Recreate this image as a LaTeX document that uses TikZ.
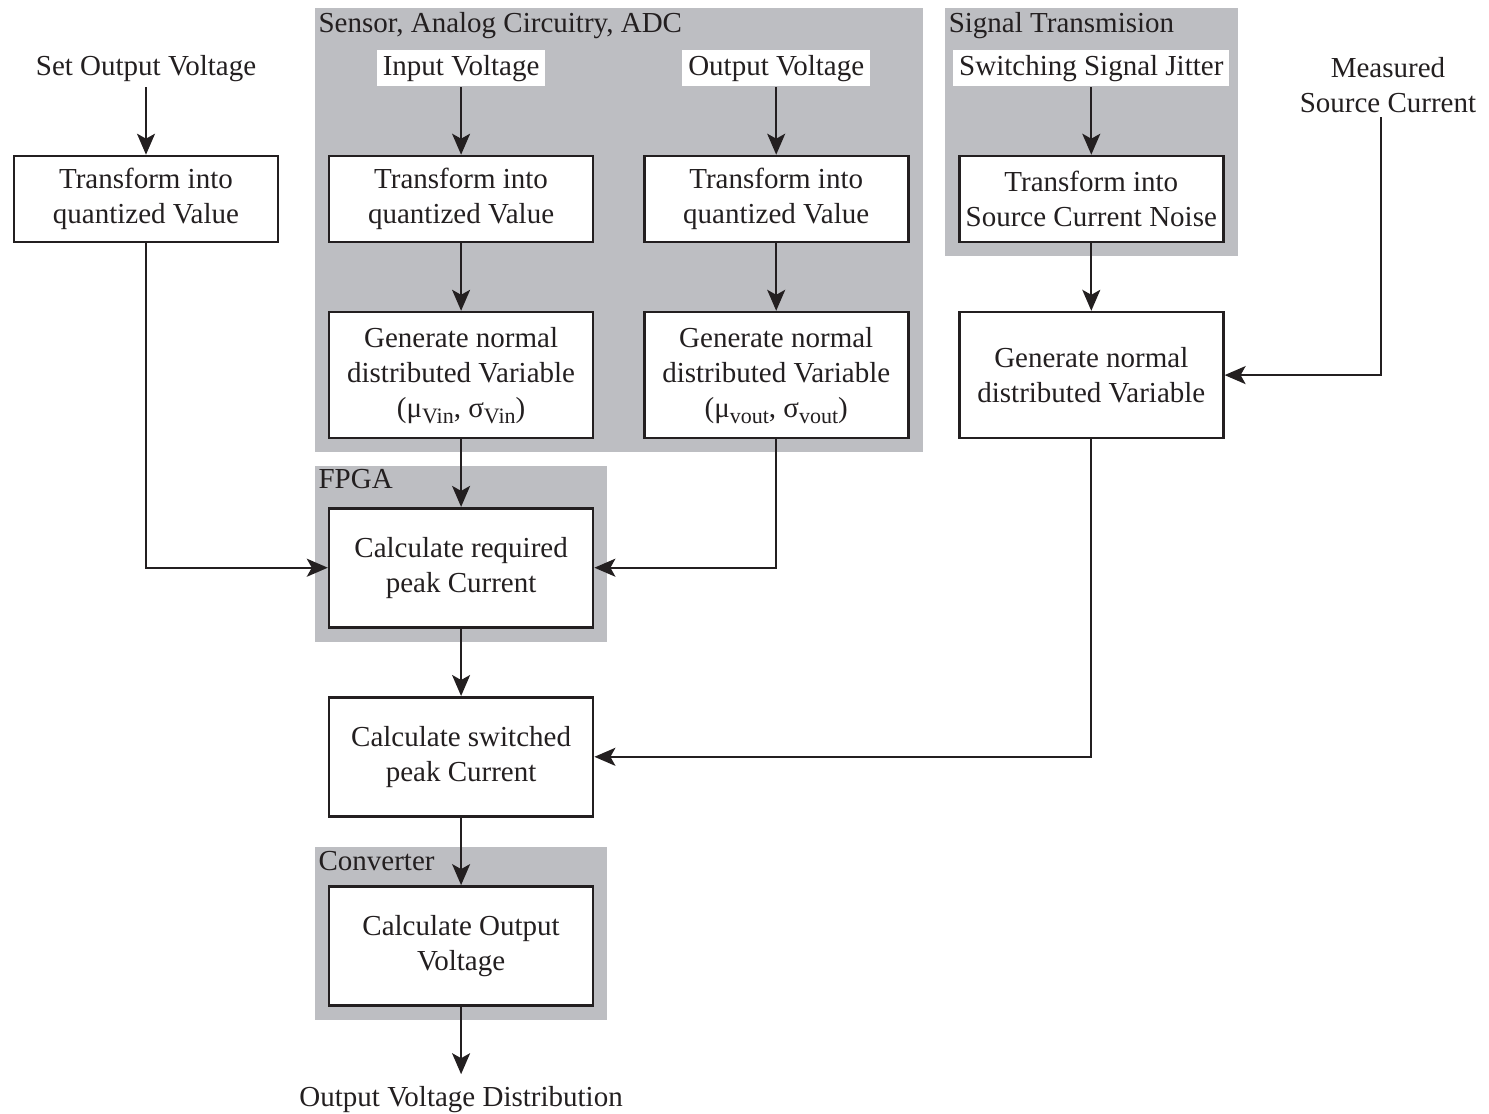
\documentclass[tikz,border=0pt]{standalone}
\usepackage{fontspec}
\setmainfont{Liberation Serif}
\usetikzlibrary{positioning, arrows.meta, fit, backgrounds}

\definecolor{panelgray}{RGB}{189,190,194}
\definecolor{ink}{RGB}{35,31,32}
\newcommand{\lowsub}[1]{\raisebox{-6pt}{\fontsize{22}{22}\selectfont #1}}

\begin{document}
\begin{tikzpicture}[x=1pt, y=-1pt, node distance=67.5pt and 48.5pt,
    font=\fontsize{29}{35}\selectfont, color=ink, line width=2pt,
    >={Stealth[length=21pt, width=18pt, inset=5pt]},
    block/.style={draw, line width=2.6pt, fill=white, align=center,
        minimum width=264pt, minimum height=86pt, inner sep=0pt},
    tallblock/.style={block, minimum height=126pt},
    calcblock/.style={block, minimum height=119pt},
    sourcetext/.style={fill=white, inner xsep=6pt, inner ysep=5pt,
        text height=20pt, text depth=6pt},
    panel/.style={fill=panelgray, inner sep=13pt},
    paneltitle/.style={anchor=north west, inner sep=3pt}]
    \useasboundingbox (0,0) rectangle (1489,1114);

    % quantization column by column
    \node[block] (quant) at (146,199) {Transform into\\quantized Value};
    \node[block, right=of quant] (vin1) {Transform into\\quantized Value};
    \node[block, right=of vin1] (vout1) {Transform into\\quantized Value};
    \node[block, right=of vout1] (noise1) {Transform into\\Source Current Noise};

    \node[sourcetext, fill=none, above=of quant] (setv) {Set Output Voltage};
    \node[sourcetext, above=of vin1] (inv) {Input Voltage};
    \node[sourcetext, above=of vout1] (outv) {Output Voltage};
    \node[sourcetext, above=of noise1] (jitter) {Switching Signal Jitter};
    \node[align=center] (meas) at (1388,85) {Measured\\Source Current};

    \node[tallblock, below=of vin1] (vin2) {Generate normal\\distributed Variable\\
        (μ\lowsub{Vin}, σ\lowsub{Vin})};
    \node[tallblock, below=of vout1] (vout2) {Generate normal\\distributed Variable\\
        (μ\lowsub{vout}, σ\lowsub{vout})};
    \node[tallblock, below=of noise1] (noise2) {Generate normal\\distributed Variable};

    \node[calcblock, below=of vin2] (reqpeak) {Calculate required\\peak Current};
    \node[calcblock, below=of reqpeak] (swpeak) {Calculate switched\\peak Current};
    \node[calcblock, below=of swpeak] (calcout) {Calculate Output\\Voltage};
    \node[sourcetext, fill=none, text height=26pt, below=of calcout] (outdist) {Output Voltage Distribution};

    % grey panels behind the groups
    \begin{scope}[on background layer]
        \coordinate[above=28pt of inv.north] (sensortop);
        \coordinate[above=28pt of jitter.north] (signaltop);
        \coordinate[above=28pt of reqpeak.north] (fpgatop);
        \coordinate[above=25pt of calcout.north] (convtop);
        \node[panel, fit=(sensortop)(vin1)(vout2)] (sensor) {};
        \node[panel, fit=(signaltop)(noise1)] (signal) {};
        \node[panel, fit=(fpgatop)(reqpeak)] (fpga) {};
        \node[panel, fit=(convtop)(calcout)] (conv) {};
    \end{scope}
    \node[paneltitle] at (sensor.north west) {Sensor, Analog Circuitry, ADC};
    \node[paneltitle] at (signal.north west) {Signal Transmision};
    \node[paneltitle] at (fpga.north west) {FPGA};
    \node[paneltitle] at (conv.north west) {Converter};

    \draw[->] (setv) -- (quant);
    \draw[->] (inv) -- (vin1);
    \draw[->] (outv) -- (vout1);
    \draw[->] (jitter) -- (noise1);
    \draw[->] (vin1) -- (vin2);
    \draw[->] (vout1) -- (vout2);
    \draw[->] (noise1) -- (noise2);
    \draw[->] ([xshift=-7pt]meas.south) |- (noise2.east);
    \draw[->] (quant.south) |- (reqpeak.west);
    \draw[->] (vin2) -- (reqpeak);
    \draw[->] (vout2.south) |- (reqpeak.east);
    \draw[->] (reqpeak) -- (swpeak);
    \draw[->] (noise2.south) |- (swpeak.east);
    \draw[->] (swpeak) -- (calcout);
    \draw[->] (calcout) -- (outdist);
\end{tikzpicture}
\end{document}
